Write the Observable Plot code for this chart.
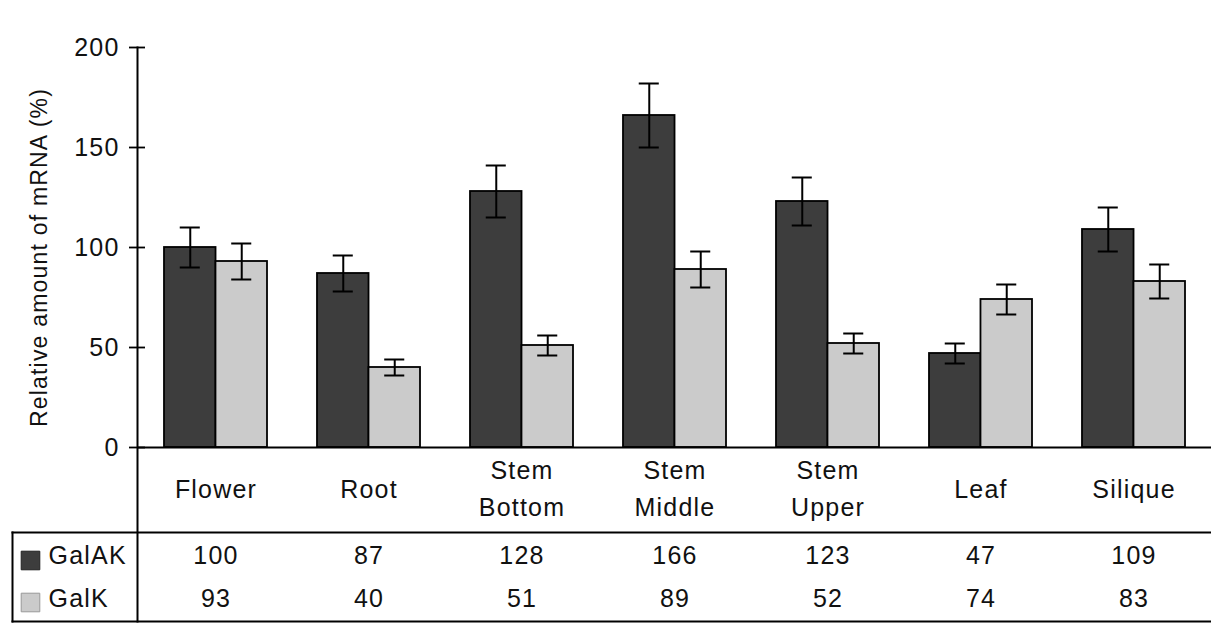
<!DOCTYPE html>
<html>
<head>
<meta charset="utf-8">
<script src="https://cdn.jsdelivr.net/npm/d3@7"></script>
<script src="https://cdn.jsdelivr.net/npm/@observablehq/plot@0.6"></script>
<style>
  html, body { margin: 0; padding: 0; background: #fff; }
</style>
</head>
<body>
<div id="chart"></div>
<script>
const categories = ["Flower", "Root", "Stem Bottom", "Stem Middle", "Stem Upper", "Leaf", "Silique"];
const categoryLabels = ["Flower", "Root", "Stem\nBottom", "Stem\nMiddle", "Stem\nUpper", "Leaf", "Silique"];
const seriesNames = ["GalAK", "GalK"];
const galak = [100, 87, 128, 166, 123, 47, 109];
const galk = [93, 40, 51, 89, 52, 74, 83];
const galakErr = [10, 9, 13, 16, 12, 5, 11];
const galkErr = [9, 4, 5, 9, 5, 7.5, 8.5];
const yTicks = [0, 50, 100, 150, 200];
const yLabel = "Relative amount of mRNA (%)";

const W = 1211, H = 623, mL = 137, mR = 0, mT = 47, mB = 176;
const xOpts = {type: "band", domain: categories, paddingInner: 0.33, paddingOuter: 0.16};
const bw = Plot.scale({x: {...xOpts, range: [mL, W - mR]}}).bandwidth;
const half = bw / 2, off = bw / 4, capInset = (bw - 20) / 2;

const akData = categories.map((c, i) => ({category: c, value: galak[i], err: galakErr[i]}));
const kData = categories.map((c, i) => ({category: c, value: galk[i], err: galkErr[i]}));

const font = "'Liberation Sans', Arial, Helvetica, sans-serif";
const ink = "#111";
const darkFill = "#3d3d3d", lightFill = "#cbcbcb";
const fs = 25;

function errorMarks(data, dx) {
  return [
    Plot.ruleX(data, {x: "category", y1: d => d.value - d.err, y2: d => d.value + d.err, dx, stroke: "#000", strokeWidth: 2}),
    Plot.tickY(data, {x: "category", y: d => d.value + d.err, dx, insetLeft: capInset, insetRight: capInset, stroke: "#000", strokeWidth: 2}),
    Plot.tickY(data, {x: "category", y: d => d.value - d.err, dx, insetLeft: capInset, insetRight: capInset, stroke: "#000", strokeWidth: 2})
  ];
}

const chart = Plot.plot({
  width: W,
  height: H,
  marginLeft: mL,
  marginRight: mR,
  marginTop: mT,
  marginBottom: mB,
  style: {fontFamily: font, letterSpacing: "1.2px", background: "#fff", color: ink},
  x: {...xOpts, axis: null},
  y: {domain: [0, 200]},
  marks: [
    Plot.barY(akData, {x: "category", y: "value", insetRight: half, fill: darkFill, stroke: "#000", strokeWidth: 1.8}),
    Plot.barY(kData, {x: "category", y: "value", insetLeft: half, fill: lightFill, stroke: "#000", strokeWidth: 1.8}),
    ...errorMarks(akData, -off),
    ...errorMarks(kData, off),
    Plot.ruleY([0], {stroke: "#000", strokeWidth: 2}),
    // y axis line extended down through the label area and table
    Plot.frame({anchor: "left", insetBottom: -174, stroke: "#000", strokeWidth: 2}),
    // table lines
    Plot.frame({anchor: "bottom", insetBottom: -85, insetLeft: -125, stroke: "#000", strokeWidth: 2}),
    Plot.frame({anchor: "bottom", insetBottom: -174, insetLeft: -125, stroke: "#000", strokeWidth: 2}),
    Plot.frame({anchor: "left", insetLeft: -125, insetTop: 485, insetBottom: -174, stroke: "#000", strokeWidth: 2}),
    // y axis: ticks crossing the axis line, then labels
    Plot.axisY({ticks: yTicks, tickSize: 16, dx: 8, tickFormat: () => "", label: null, stroke: "#000", strokeWidth: 1.8}),
    Plot.axisY({ticks: yTicks, tickSize: 0, tickPadding: 18, label: null, fontSize: fs, color: ink}),
    Plot.text([yLabel], {frameAnchor: "left", textAnchor: "middle", lineAnchor: "middle", rotate: -90, dx: -98, dy: 10, fontSize: 23, fill: ink}),
    // category labels
    Plot.text(categories, {x: d => d, text: (d, i) => categoryLabels[i], frameAnchor: "bottom", dy: 38, lineAnchor: "middle", lineHeight: 1.5, fontSize: fs, fill: ink}),
    // table values
    Plot.text(akData, {x: "category", text: d => String(d.value), frameAnchor: "bottom", dy: 108, lineAnchor: "middle", fontSize: fs, fill: ink}),
    Plot.text(kData, {x: "category", text: d => String(d.value), frameAnchor: "bottom", dy: 151, lineAnchor: "middle", fontSize: fs, fill: ink}),
    // row labels with swatches
    Plot.dot([seriesNames[0]], {frameAnchor: "bottom-left", dx: -107, dy: 113, symbol: "square", r: 10.5, fill: darkFill, stroke: "#222", strokeWidth: 1}),
    Plot.dot([seriesNames[1]], {frameAnchor: "bottom-left", dx: -107, dy: 155, symbol: "square", r: 10.5, fill: lightFill, stroke: "#999", strokeWidth: 1}),
    Plot.text([seriesNames[0]], {text: d => d, frameAnchor: "bottom-left", dx: -89, dy: 108, textAnchor: "start", lineAnchor: "middle", fontSize: fs, fill: ink}),
    Plot.text([seriesNames[1]], {text: d => d, frameAnchor: "bottom-left", dx: -89, dy: 151, textAnchor: "start", lineAnchor: "middle", fontSize: fs, fill: ink})
  ]
});
document.getElementById("chart").appendChild(chart);
</script>
</body>
</html>
